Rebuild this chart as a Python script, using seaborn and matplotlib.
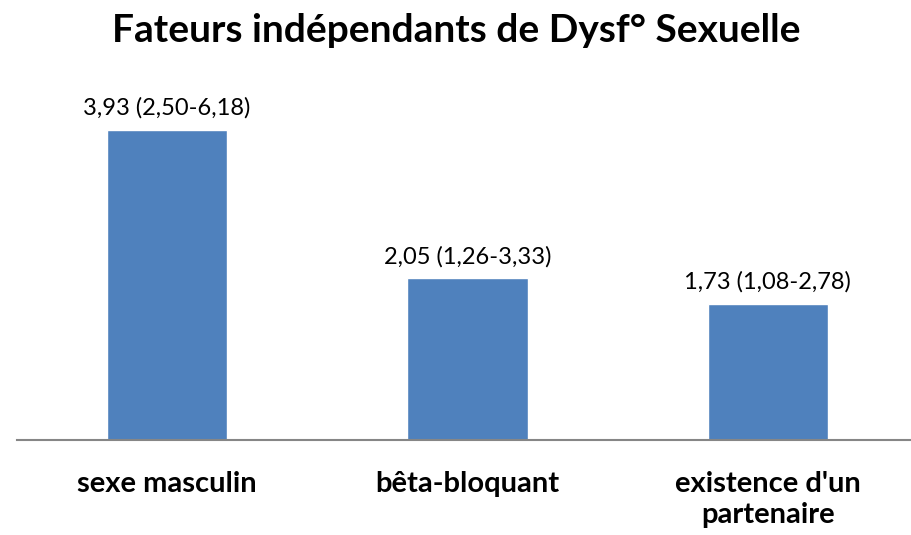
import pandas as pd
import matplotlib.pyplot as plt
import seaborn as sns

categories = ["sexe masculin", "bêta-bloquant", "existence d'un\npartenaire"]
odds_ratio = [3.93, 2.05, 1.73]
bar_labels = ["3,93 (2,50-6,18)", "2,05 (1,26-3,33)", "1,73 (1,08-2,78)"]

df = pd.DataFrame({"facteur": categories, "OR": odds_ratio})

sns.set_style("white")
plt.rcParams['font.family'] = ['Lato', 'DejaVu Sans']
plt.rcParams['text.color'] = 'black'
plt.rcParams['xtick.color'] = 'black'

fig = plt.figure(figsize=(9.12, 5.35), dpi=100)
ax = fig.add_axes([17 / 912, 95 / 535, 1 - 17 / 912, 355 / 535])

sns.barplot(x="facteur", y="OR", data=df, ax=ax, color="#4F81BD",
            saturation=1, width=0.4)

for c in ax.containers:
    ax.bar_label(c, labels=bar_labels, padding=8, fontsize=17, color='black')

ax.set_ylim(0, 4.5)
ax.set_xlim(-0.5, 2.48)
ax.set_xlabel("")
ax.set_ylabel("")
ax.set_yticks([])
sns.despine(ax=ax, left=True, top=True, right=True)
ax.spines['bottom'].set_color('#868686')
ax.spines['bottom'].set_linewidth(1.5)
ax.tick_params(axis='x', length=0, pad=22, colors='black')
for t in ax.get_xticklabels():
    t.set_fontsize(21)
    t.set_fontweight('bold')
    t.set_linespacing(1.25)

fig.suptitle("Fateurs indépendants de Dysf° Sexuelle", fontsize=28,
             fontweight='bold', y=0.975, va='top', color='black')

plt.savefig("out.png", dpi=100)
